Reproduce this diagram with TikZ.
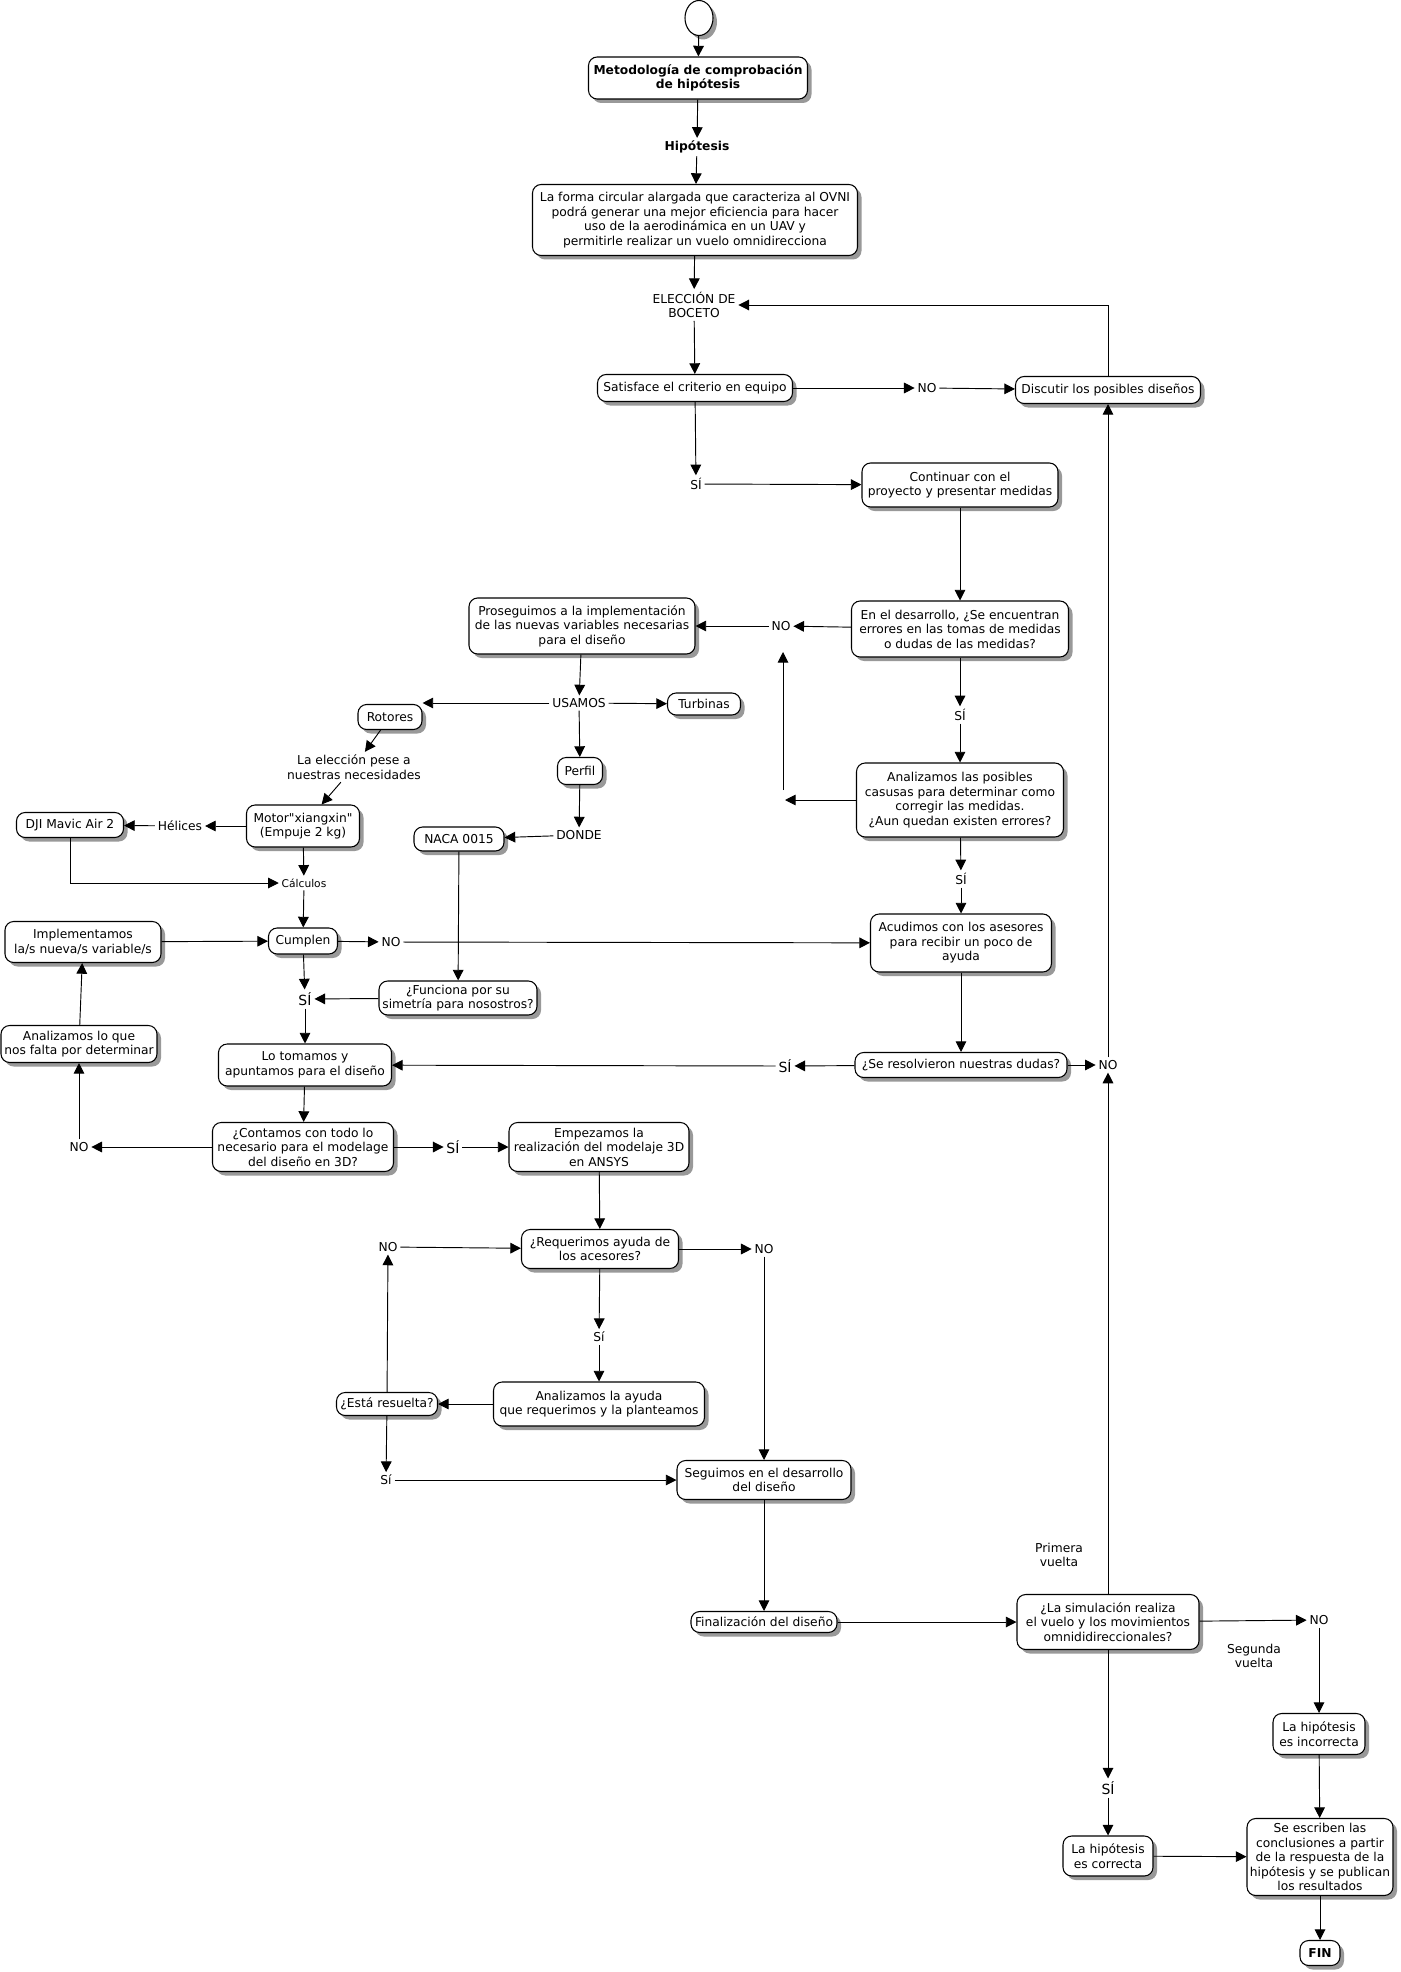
\documentclass[tikz,border=0pt]{standalone}
\usepackage{fontspec}
\setmainfont{DejaVu Sans}
\newfontfamily\qfont{DejaVu Sans}
\usetikzlibrary{arrows.meta,shadows,shapes.geometric}
\tikzset{
  box/.style={draw, line width=0.8pt, rounded corners=6.5pt, fill=white, align=center, inner sep=2pt,
    drop shadow={shadow xshift=3pt,shadow yshift=-3pt,fill=black!40,opacity=1}},
  lbl/.style={align=center, inner sep=2pt},
  arr/.style={-{Triangle[length=8pt,width=8pt]}, line width=0.7pt},
  sz/.style 2 args={minimum width=#1*0.75pt, minimum height=#2*0.75pt},
}
\begin{document}
\begin{tikzpicture}[x=0.75pt,y=-0.75pt,font=\fontsize{9.2}{10.9}\selectfont]
\useasboundingbox[fill=white] (0,0) rectangle (1400,1972);
% nodes
\node[draw, ellipse, line width=0.8pt, fill=white, sz={28}{35}, inner sep=0pt,
  drop shadow={shadow xshift=3pt,shadow yshift=-3pt,fill=black!40,opacity=1}] (start) at (699,18) {};
\node[box, sz={219}{42}, font=\fontsize{9.2}{10.9}\selectfont\bfseries] (title) at (698,78) {Metodología de comprobación\\de hipótesis};
\node[lbl, font=\fontsize{9.2}{10.9}\selectfont\bfseries] (hipo) at (697,147) {Hipótesis};
\node[box, sz={325}{71}] (hbox) at (695,220) {La forma circular alargada que caracteriza al OVNI\\podrá generar una mejor eficiencia para hacer\\uso de la aerodinámica en un UAV y\\permitirle realizar un vuelo omnidirecciona};
\node[lbl] (elec) at (694,305) {ELECCIÓN DE\\BOCETO};
\node[box, sz={195}{27}] (satis) at (695,388) {Satisface el criterio en equipo};
\node[lbl] (no1) at (927,388) {NO};
\node[box, sz={185}{27}] (disc) at (1108,390) {Discutir los posibles diseños};
\node[lbl] (si1) at (696,484) {SÍ};
\node[box, sz={196}{44}] (cont) at (960,485) {Continuar con el\\proyecto y presentar medidas};
\node[box, sz={217}{56}] (desa) at (960,629) {En el desarrollo, ¿Se encuentran\\errores en las tomas de medidas\\o dudas de las medidas?};
\node[lbl] (no2) at (781,626) {NO};
\node[box, sz={226}{56}] (pros) at (582,626) {Proseguimos a la implementación\\de las nuevas variables necesarias\\para el diseño};
\node[lbl] (si2) at (960,715) {SÍ};
\node[box, sz={207}{74}] (anal) at (960,800) {Analizamos las posibles\\casusas para determinar como\\corregir las medidas.\\¿Aun quedan existen errores?};
\node[lbl] (si9) at (961,879) {SÍ};
\node[lbl] (usamos) at (579,703) {USAMOS};
\node[box, sz={73}{22}] (turb) at (704,704) {Turbinas};
\node[box, sz={64}{25}] (rot) at (390,717) {Rotores};
\node[lbl] (elecc) at (354,767) {La elección pese a\\nuestras necesidades};
\node[box, sz={45}{27}] (perfil) at (580,771) {Perfil};
\node[lbl] (donde) at (579,835) {DONDE};
\node[box, sz={90}{24}] (naca) at (459,839) {NACA 0015};
\node[box, sz={113}{42}] (motor) at (303,826) {Motor{\qfont"}xiangxin{\qfont"}\\(Empuje 2 kg)};
\node[lbl] (helices) at (180,826) {Hélices};
\node[box, sz={107}{25}] (dji) at (70,825) {DJI Mavic Air 2};
\node[lbl, font=\fontsize{8}{9}\selectfont] (calc) at (304,883) {Cálculos};
\node[box, sz={69}{26}] (cumplen) at (303,941) {Cumplen};
\node[box, sz={156}{41}] (impl) at (83,942) {Implementamos\\la/s nueva/s variable/s};
\node[lbl] (no3) at (391,942) {NO};
\node[box, sz={181}{58}] (acud) at (961,943) {Acudimos con los asesores\\para recibir un poco de\\ayuda};
\node[box, sz={158}{34}] (func) at (458,998) {¿Funciona por su\\simetría para nosostros?};
\node[lbl, font=\fontsize{10.5}{12}\selectfont] (si3) at (305,999) {SÍ};
\node[box, sz={173}{42}] (lotom) at (305,1065) {Lo tomamos y\\apuntamos para el diseño};
\node[lbl, font=\fontsize{10.5}{12}\selectfont] (si4) at (785,1066) {SÍ};
\node[box, sz={212}{25}] (resol) at (961,1065) {¿Se resolvieron nuestras dudas?};
\node[lbl] (no4) at (1108,1065) {NO};
\node[box, sz={156}{37}] (anlq) at (79,1044) {Analizamos lo que\\nos falta por determinar};
\node[box, sz={181}{49}] (contam) at (303,1147) {¿Contamos con todo lo\\necesario para el modelage\\del diseño en 3D?};
\node[lbl] (no5) at (79,1147) {NO};
\node[lbl, font=\fontsize{10.5}{12}\selectfont] (si5) at (453,1147) {SÍ};
\node[box, sz={180}{49}] (empez) at (599,1147) {Empezamos la\\realización del modelaje 3D\\en ANSYS};
\node[box, sz={157}{39}] (requer) at (600,1249) {¿Requerimos ayuda de\\los acesores?};
\node[lbl] (no6) at (388,1247) {NO};
\node[lbl] (no7) at (764,1249) {NO};
\node[lbl] (si6) at (599,1337) {Sí};
\node[box, sz={211}{44}] (ayuda) at (599,1404) {Analizamos la ayuda\\que requerimos y la planteamos};
\node[box, sz={101}{23}] (esta) at (387,1404) {¿Está resuelta?};
\node[lbl] (si7) at (386,1480) {Sí};
\node[box, sz={174}{39}] (segu) at (764,1480) {Seguimos en el desarrollo\\del diseño};
\node[box, sz={146}{21}] (final) at (764,1622) {Finalización del diseño};
\node[box, sz={182}{55}] (simul) at (1108,1622) {¿La simulación realiza\\el vuelo y los movimientos\\omnididireccionales?};
\node[lbl] (primera) at (1059,1555) {Primera\\vuelta};
\node[lbl] (no8) at (1319,1620) {NO};
\node[lbl] (segunda) at (1254,1656) {Segunda\\vuelta};
\node[box, sz={92}{41}] (incor) at (1319,1734) {La hipótesis\\es incorrecta};
\node[lbl, font=\fontsize{10.5}{12}\selectfont] (si8) at (1108,1788) {SÍ};
\node[box, sz={90}{40}] (corr) at (1108,1856) {La hipótesis\\es correcta};
\node[box, sz={146}{77}] (concl) at (1320,1857) {Se escriben las\\conclusiones a partir\\de la respuesta de la\\hipótesis y se publican\\los resultados};
\node[box, sz={40}{25}, font=\fontsize{9.2}{10.9}\selectfont\bfseries] (fin) at (1320,1953) {FIN};
\coordinate (aw) at (785,800);
\coordinate (vb) at (783,790);
\coordinate (vt) at (783,652);
% connectors
\draw[arr] (start) -- (title);
\draw[arr] (title) -- (hipo);
\draw[arr] (hipo) -- (hbox);
\draw[arr] (hbox) -- (elec);
\draw[arr] (elec) -- (satis);
\draw[arr] (satis) -- (no1);
\draw[arr] (no1) -- (disc);
\draw[arr] (disc.north) |- (elec.east);
\draw[arr] (satis) -- (si1);
\draw[arr] (si1) -- (cont);
\draw[arr] (cont) -- (desa);
\draw[arr] (desa) -- (no2);
\draw[arr] (no2) -- (pros);
\draw[arr] (desa) -- (si2);
\draw[arr] (si2) -- (anal);
\draw[arr] (anal.west |- aw) -- (aw);
\draw[arr] (vb) -- (vt);
\draw[arr] (anal) -- (si9);
\draw[arr] (si9) -- (acud);
\draw[arr] (pros) -- (usamos);
\draw[arr] (usamos) -- (turb);
\draw[arr] (usamos.west) -- (rot.east |- usamos.west);
\draw[arr] (usamos) -- (perfil);
\draw[arr] (perfil) -- (donde);
\draw[arr] (donde) -- (naca);
\draw[arr] (rot) -- (elecc);
\draw[arr] (elecc) -- (motor);
\draw[arr] (motor) -- (helices);
\draw[arr] (helices) -- (dji);
\draw[arr] (motor) -- (calc);
\draw[arr] (dji.south) |- (calc.west);
\draw[arr] (calc) -- (cumplen);
\draw[arr] (impl) -- (cumplen);
\draw[arr] (cumplen) -- (no3);
\draw[arr] (no3) -- (acud);
\draw[arr] (naca) -- (func);
\draw[arr] (func) -- (si3);
\draw[arr] (cumplen) -- (si3);
\draw[arr] (si3) -- (lotom);
\draw[arr] (acud) -- (resol);
\draw[arr] (resol) -- (si4);
\draw[arr] (si4) -- (lotom);
\draw[arr] (resol) -- (no4);
\draw[arr] (no4) -- (disc);
\draw[arr] (simul) -- (no4);
\draw[arr] (lotom) -- (contam);
\draw[arr] (contam) -- (no5);
\draw[arr] (no5) -- (anlq);
\draw[arr] (anlq) -- (impl);
\draw[arr] (contam) -- (si5);
\draw[arr] (si5) -- (empez);
\draw[arr] (empez) -- (requer);
\draw[arr] (no6) -- (requer);
\draw[arr] (requer) -- (no7);
\draw[arr] (no7) -- (segu);
\draw[arr] (requer) -- (si6);
\draw[arr] (si6) -- (ayuda);
\draw[arr] (ayuda) -- (esta);
\draw[arr] (esta) -- (no6);
\draw[arr] (esta) -- (si7);
\draw[arr] (si7) -- (segu);
\draw[arr] (segu) -- (final);
\draw[arr] (final) -- (simul);
\draw[arr] (simul) -- (no8);
\draw[arr] (no8) -- (incor);
\draw[arr] (simul) -- (si8);
\draw[arr] (si8) -- (corr);
\draw[arr] (incor) -- (concl);
\draw[arr] (corr) -- (concl);
\draw[arr] (concl) -- (fin);
\end{tikzpicture}
\end{document}
